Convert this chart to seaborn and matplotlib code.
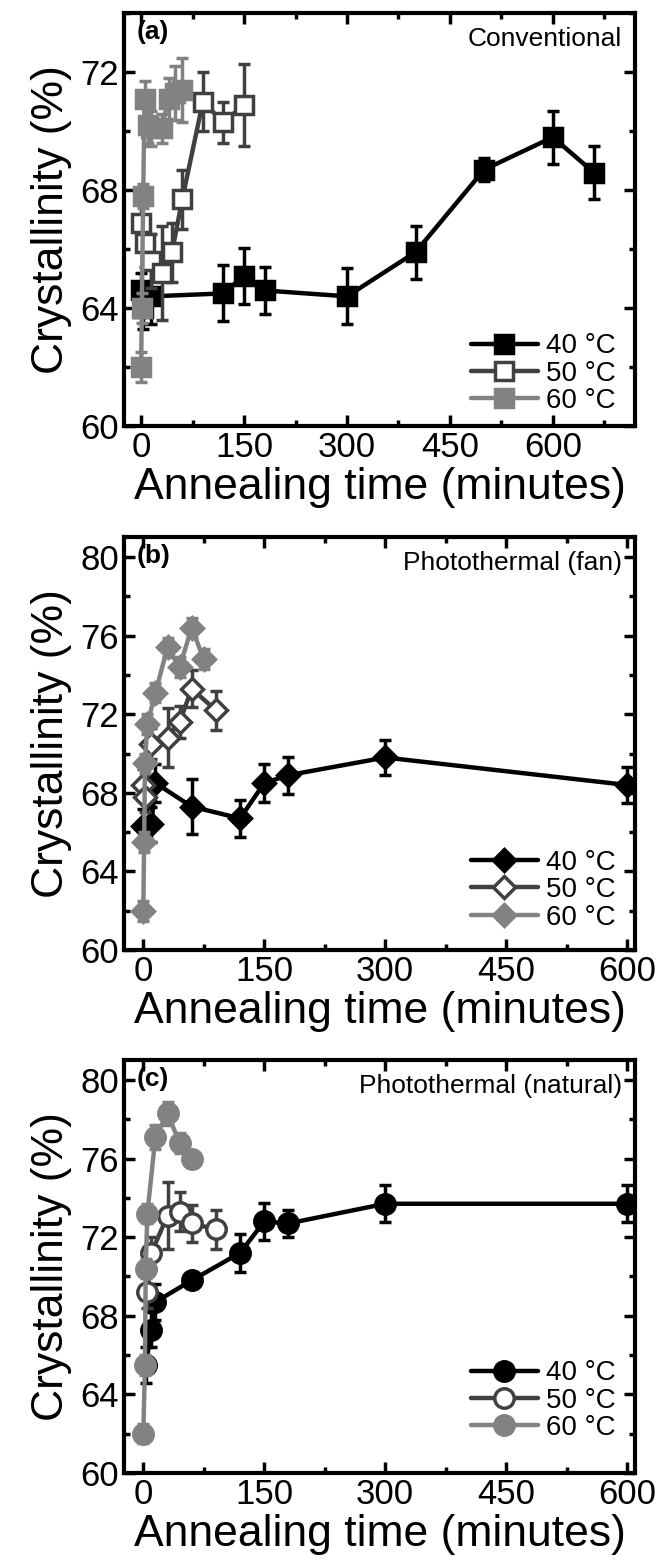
import numpy as np
import matplotlib
matplotlib.use('Agg')
import matplotlib.pyplot as plt
from matplotlib.ticker import MultipleLocator
import seaborn as sns

# (a) Conventional
t40a = [0, 3, 15, 120, 150, 180, 300, 400, 500, 600, 660]
v40a = [64.6, 64.0, 64.4, 64.5, 65.1, 64.6, 64.4, 65.9, 68.7, 69.8, 68.6]
e40a = [0.6, 0.7, 0.95, 0.95, 0.95, 0.8, 0.95, 0.9, 0.4, 0.9, 0.9]
t50a = [0, 5, 15, 30, 45, 60, 90, 120, 150]
v50a = [66.9, 66.2, 65.6, 65.2, 65.9, 67.7, 71.0, 70.3, 70.9]
e50a = [0.8, 0.8, 0.9, 1.6, 1.0, 1.0, 1.0, 0.7, 1.4]
t60a = [0, 1, 3, 5, 10, 15, 30, 40, 50, 60]
v60a = [62.0, 64.0, 67.8, 71.1, 70.2, 70.1, 70.1, 71.1, 71.3, 71.4]
e60a = [0.5, 0.5, 0.4, 0.6, 0.6, 0.6, 0.5, 0.7, 0.9, 1.1]

# (b) Photothermal (fan)
t40b = [0, 10, 15, 60, 120, 150, 180, 300, 600]
v40b = [66.3, 66.4, 68.5, 67.3, 66.7, 68.5, 68.9, 69.8, 68.4]
e40b = [0.9, 0.9, 0.95, 1.4, 0.95, 0.95, 0.95, 0.9, 0.9]
t50b = [0, 2, 10, 30, 45, 60, 90]
v50b = [68.4, 67.8, 70.5, 70.8, 71.6, 73.3, 72.2]
e50b = [0.8, 0.8, 0.8, 1.5, 0.8, 0.95, 1.0]
t60b = [0, 1, 2, 5, 15, 30, 45, 60, 75]
v60b = [62.0, 65.5, 69.5, 71.5, 73.1, 75.4, 74.4, 76.4, 74.8]
e60b = [0.5, 0.5, 0.5, 0.5, 0.5, 0.5, 0.5, 0.5, 0.5]

# (c) Photothermal (natural)
t40c = [3, 10, 15, 60, 120, 150, 180, 300, 600]
v40c = [65.5, 67.3, 68.7, 69.8, 71.2, 72.8, 72.7, 73.7, 73.7]
e40c = [0.9, 0.9, 0.9, 0.4, 0.95, 0.95, 0.7, 0.95, 0.95]
t50c = [5, 10, 30, 45, 60, 90]
v50c = [69.2, 71.2, 73.1, 73.3, 72.7, 72.4]
e50c = [0.8, 0.8, 1.7, 1.0, 0.95, 1.0]
t60c = [0, 2, 3, 5, 15, 30, 45, 60]
v60c = [62.0, 65.5, 70.4, 73.2, 77.1, 78.3, 76.8, 76.0]
e60c = [0.5, 0.5, 0.5, 0.5, 0.6, 0.6, 0.5, 0.4]

temps = ['40 \u00b0C', '50 \u00b0C', '60 \u00b0C']
colors = ['#000000', '#404040', '#828282']

sns.set_style('ticks', rc={'text.color': 'black', 'axes.labelcolor': 'black',
                           'xtick.color': 'black', 'ytick.color': 'black',
                           'axes.edgecolor': 'black'})
plt.rcParams['font.family'] = ['Liberation Sans', 'DejaVu Sans']

fig = plt.figure(figsize=(6.57, 15.6), dpi=100)

panels = [
    ('(a)', 'Conventional', 's', 13.5, (-25, 720), (60, 74),
     [(t40a, v40a, e40a), (t50a, v50a, e50a), (t60a, v60a, e60a)], 0.7269, -0.018),
    ('(b)', 'Photothermal (fan)', 'D', 11.5, (-24, 610), (60, 81),
     [(t40b, v40b, e40b), (t50b, v50b, e50b), (t60b, v60b, e60b)], 0.391, 0.0),
    ('(c)', 'Photothermal (natural)', 'o', 14, (-24, 610), (60, 81),
     [(t40c, v40c, e40c), (t50c, v50c, e50c), (t60c, v60c, e60c)], 0.0558, 0.03),
]

for tag, title, mk, ms, xlim, ylim, series, bottom, ly in panels:
    ax = fig.add_axes([0.1887, bottom, 0.778, 0.2645])
    for i, (t, v, e) in enumerate(series):
        c = colors[i]
        fc = 'white' if i == 1 else c
        ax.errorbar(t, v, yerr=e, fmt='none', ecolor=c, elinewidth=2.5,
                    capsize=4, capthick=2.5, zorder=2 + i)
        sns.lineplot(x=t, y=v, ax=ax, color=c, lw=3.2, marker=mk, markersize=ms,
                     markerfacecolor=fc, markeredgecolor=c, markeredgewidth=2.5,
                     label=temps[i], estimator=None, sort=False, zorder=2.5 + i)
    ax.set_xlim(*xlim)
    ax.set_ylim(*ylim)
    ax.xaxis.set_major_locator(MultipleLocator(150))
    ax.xaxis.set_minor_locator(MultipleLocator(75))
    ax.yaxis.set_major_locator(MultipleLocator(4))
    ax.yaxis.set_minor_locator(MultipleLocator(2))
    ax.tick_params(which='both', direction='in', top=True, right=True, width=2.5,
                   labelsize=25, colors='black')
    ax.tick_params(which='major', length=8)
    ax.tick_params(which='minor', length=4)
    for s in ax.spines.values():
        s.set_linewidth(3)
        s.set_color('black')
    ax.set_xlabel('Annealing time (minutes)', fontsize=32, labelpad=2)
    ax.set_ylabel('Crystallinity (%)', fontsize=32, labelpad=6)
    ax.text(0.025, 0.985, tag, transform=ax.transAxes, fontsize=19,
            fontweight='bold', ha='left', va='top')
    ax.text(0.975, 0.968, title, transform=ax.transAxes, fontsize=19,
            ha='right', va='top')
    ax.legend(loc='lower right', bbox_to_anchor=(1.0, ly), frameon=False,
              fontsize=20, handlelength=2.4, handletextpad=0.3,
              labelspacing=0.05, borderaxespad=0.3)

fig.savefig('out.png', dpi=100)
